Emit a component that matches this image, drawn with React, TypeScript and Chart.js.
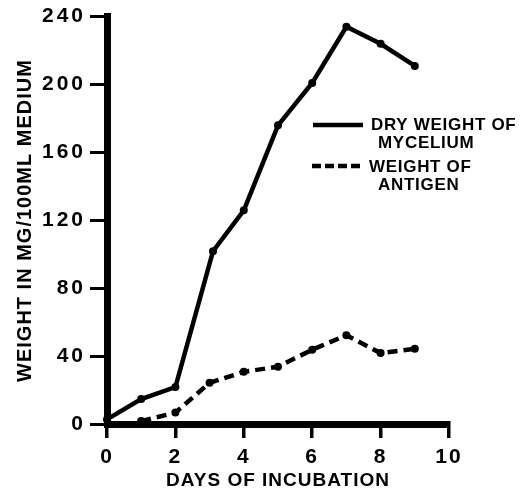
import React, { useEffect, useRef } from 'react';
import { Chart, registerables } from 'chart.js';

Chart.register(...registerables);

// ---- data ----
const myceliumDays = [0, 1, 2, 3.1, 4, 5, 6, 7, 8, 9];
const myceliumWeight = [3, 15, 22, 102, 126, 176, 201, 234, 224, 211];
const antigenDays = [1, 2, 3, 4, 5, 6, 7, 8, 9];
const antigenWeight = [2, 7, 24.5, 31, 34, 44, 52.5, 42, 44.5];
const xTickValues = [0, 2, 4, 6, 8, 10];
const yTickValues = [0, 40, 80, 120, 160, 200, 240];
const xTitle = 'DAYS OF INCUBATION';
const yTitle = 'WEIGHT IN MG/100ML MEDIUM';
const seriesLabels = [
  ['DRY WEIGHT OF', 'MYCELIUM'],
  ['WEIGHT OF', 'ANTIGEN'],
];

const FONT = '"Liberation Sans", Arial, Helvetica, sans-serif';

const wrapSpacing = (scale: any, method: string, spacing: string) => {
  const orig = scale[method];
  scale[method] = function (...args: any[]) {
    const ctx = this.ctx;
    const prev = ctx.letterSpacing;
    ctx.letterSpacing = spacing;
    orig.apply(this, args);
    ctx.letterSpacing = prev;
  };
};

const spacingPlugin = {
  id: 'letterSpacingPlugin',
  afterUpdate(chart: any) {
    const x = chart.scales.x;
    const y = chart.scales.y;
    if (x && !x._spaced) {
      x._spaced = true;
      wrapSpacing(x, 'drawLabels', '2px');
      wrapSpacing(x, 'drawTitle', '1px');
    }
    if (y && !y._spaced) {
      y._spaced = true;
      wrapSpacing(y, 'drawLabels', '3px');
      wrapSpacing(y, 'drawTitle', '1px');
    }
  },
};

const legendPlugin = {
  id: 'inlineLegend',
  afterDraw(chart: any) {
    const ctx = chart.ctx;
    const entries = [
      { ds: 0, lineY: 125, x1: 313, x2: 363, text: [[371, 125.5], [378, 143.5]] },
      { ds: 1, lineY: 166, x1: 312, x2: 362, text: [[369, 167], [378, 185]] },
    ];
    ctx.save();
    entries.forEach((e) => {
      const ds = chart.data.datasets[e.ds];
      ctx.beginPath();
      ctx.strokeStyle = '#000';
      ctx.lineWidth = 4.5;
      ctx.setLineDash(e.ds === 1 ? [9, 4] : []);
      ctx.moveTo(e.x1, e.lineY);
      ctx.lineTo(e.x2, e.lineY);
      ctx.stroke();
      ctx.setLineDash([]);
      ctx.fillStyle = '#000';
      ctx.font = `bold 17px ${FONT}`;
      (ctx as any).letterSpacing = '0.7px';
      ctx.textAlign = 'left';
      ctx.textBaseline = 'middle';
      seriesLabels[e.ds].forEach((line, i) => {
        ctx.fillText(line, e.text[i][0], e.text[i][1]);
      });
    });
    ctx.restore();
  },
};

export default function App() {
  const ref = useRef<HTMLCanvasElement>(null);

  useEffect(() => {
    if (!ref.current) return;
    const chart = new Chart(ref.current, {
      type: 'line',
      data: {
        datasets: [
          {
            label: seriesLabels[0].join(' '),
            data: myceliumDays.map((d, i) => ({ x: d, y: myceliumWeight[i] })),
            borderColor: '#000',
            backgroundColor: '#000',
            borderWidth: 4.5,
            pointRadius: 4,
            pointBackgroundColor: '#000',
            pointBorderWidth: 0,
            tension: 0,
            clip: false as any,
          },
          {
            label: seriesLabels[1].join(' '),
            data: antigenDays.map((d, i) => ({ x: d, y: antigenWeight[i] })),
            borderColor: '#000',
            backgroundColor: '#000',
            borderWidth: 4.5,
            borderDash: [10, 6],
            pointRadius: 4,
            pointBackgroundColor: '#000',
            pointBorderWidth: 0,
            tension: 0,
            clip: false as any,
          },
        ],
      },
      options: {
        animation: false,
        responsive: false,
        layout: { padding: { top: 15, right: 81, left: 0, bottom: 0 } },
        plugins: {
          legend: { display: false },
          tooltip: { enabled: false },
        },
        scales: {
          x: {
            type: 'linear',
            min: 0,
            max: 10,
            afterBuildTicks: (s: any) => {
              s.ticks = xTickValues.map((v) => ({ value: v }));
            },
            afterFit: (s: any) => {
              s.height = 67.5;
            },
            grid: {
              drawOnChartArea: false,
              tickLength: 13.5,
              lineWidth: 3.5,
              color: '#000',
            },
            border: { width: 7, color: '#000' },
            ticks: {
              color: '#000',
              padding: 7,
              font: { family: FONT, size: 21, weight: 'bold' },
              maxRotation: 0,
            },
            title: {
              display: true,
              text: xTitle,
              color: '#000',
              font: { family: FONT, size: 19, weight: 'bold' },
              padding: { top: 0, bottom: 0 },
            },
          },
          y: {
            type: 'linear',
            min: 0,
            max: 240,
            afterBuildTicks: (s: any) => {
              s.ticks = yTickValues.map((v) => ({ value: v }));
            },
            afterFit: (s: any) => {
              s.width = 107;
            },
            grid: {
              drawOnChartArea: false,
              tickLength: 17,
              lineWidth: 3,
              color: '#000',
            },
            border: { width: 7, color: '#000' },
            ticks: {
              color: '#000',
              padding: 4,
              font: { family: FONT, size: 21, weight: 'bold' },
            },
            title: {
              display: true,
              text: yTitle,
              color: '#000',
              font: { family: FONT, size: 20, weight: 'bold' },
              padding: { top: 13, bottom: 0 },
            },
          },
        },
      },
      plugins: [spacingPlugin, legendPlugin],
    });
    chart.draw();
    return () => chart.destroy();
  }, []);

  return (
    <div style={{ position: 'fixed', left: 0, top: 0, width: 530, height: 492, background: '#fff' }}>
      <canvas ref={ref} width={530} height={492} style={{ display: 'block' }} />
    </div>
  );
}
